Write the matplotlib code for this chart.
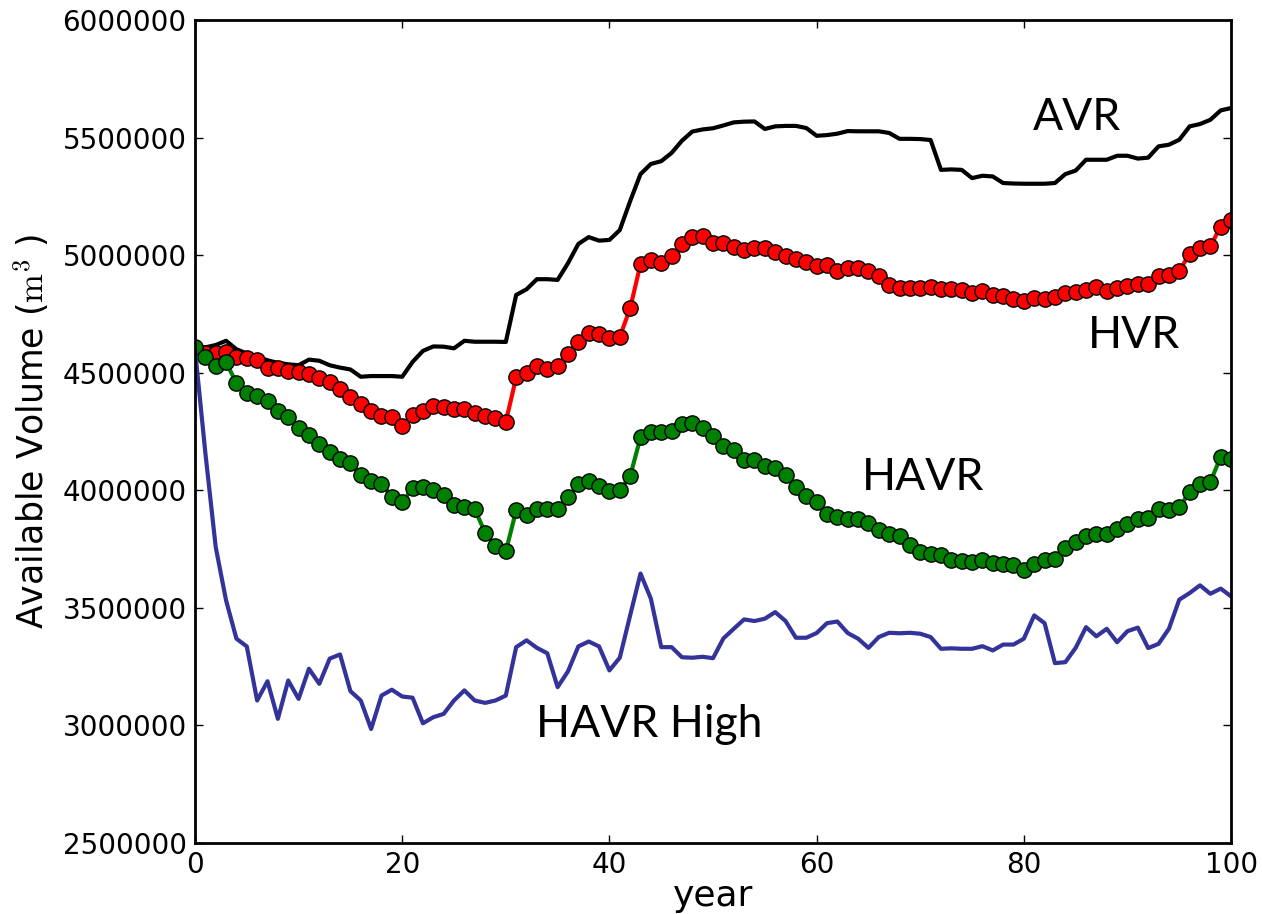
import numpy as np
import matplotlib
matplotlib.use("Agg")
import matplotlib.pyplot as plt

years = np.arange(0, 101)

avr = [4608000, 4608000, 4618000, 4636000, 4600000, 4582000, 4568000, 4553000, 4542000, 4536000,
       4532000, 4556000, 4551000, 4532000, 4522000, 4514000, 4483000, 4486000, 4486000, 4486000,
       4483000, 4546000, 4593000, 4612000, 4611000, 4604000, 4636000, 4632000, 4632000, 4632000,
       4631000, 4831000, 4855000, 4898000, 4898000, 4895000, 4966000, 5048000, 5077000, 5062000,
       5065000, 5107000, 5230000, 5345000, 5388000, 5400000, 5435000, 5487000, 5526000, 5535000,
       5540000, 5552000, 5565000, 5568000, 5569000, 5537000, 5548000, 5550000, 5550000, 5541000,
       5508000, 5511000, 5517000, 5528000, 5527000, 5527000, 5527000, 5520000, 5495000, 5495000,
       5494000, 5490000, 5363000, 5365000, 5363000, 5328000, 5338000, 5335000, 5307000, 5305000,
       5304000, 5304000, 5304000, 5307000, 5345000, 5360000, 5406000, 5406000, 5406000, 5423000,
       5423000, 5411000, 5415000, 5463000, 5470000, 5491000, 5548000, 5558000, 5576000, 5616000,
       5626000]

hvr = [4600000, 4585000, 4585000, 4589000, 4568000, 4561000, 4554000, 4519000, 4519000, 4509000,
       4502000, 4494000, 4476000, 4462000, 4433000, 4398000, 4367000, 4338000, 4317000, 4313000,
       4273000, 4320000, 4337000, 4358000, 4353000, 4348000, 4348000, 4327000, 4317000, 4308000,
       4291000, 4480000, 4497000, 4530000, 4516000, 4530000, 4578000, 4630000, 4668000, 4665000,
       4647000, 4653000, 4774000, 4962000, 4980000, 4966000, 4997000, 5048000, 5079000, 5082000,
       5051000, 5054000, 5037000, 5023000, 5030000, 5030000, 5015000, 4998000, 4983000, 4970000,
       4956000, 4959000, 4933000, 4945000, 4945000, 4933000, 4913000, 4874000, 4860000, 4860000,
       4860000, 4866000, 4855000, 4855000, 4852000, 4840000, 4849000, 4831000, 4827000, 4813000,
       4805000, 4817000, 4813000, 4824000, 4841000, 4845000, 4852000, 4864000, 4849000, 4859000,
       4869000, 4876000, 4878000, 4912000, 4916000, 4932000, 5007000, 5030000, 5038000, 5122000,
       5150000]

havr = [4611000, 4566000, 4530000, 4544000, 4457000, 4412000, 4402000, 4381000, 4338000, 4313000,
        4267000, 4235000, 4199000, 4164000, 4135000, 4117000, 4064000, 4039000, 4029000, 3972000,
        3951000, 4008000, 4014000, 4003000, 3982000, 3937000, 3927000, 3920000, 3820000, 3765000,
        3740000, 3915000, 3895000, 3920000, 3920000, 3920000, 3970000, 4025000, 4040000, 4020000,
        3995000, 4000000, 4060000, 4225000, 4246000, 4246000, 4253000, 4281000, 4287000, 4263000,
        4230000, 4188000, 4171000, 4131000, 4128000, 4104000, 4093000, 4064000, 4014000, 3975000,
        3951000, 3901000, 3887000, 3876000, 3876000, 3859000, 3833000, 3816000, 3805000, 3766000,
        3738000, 3731000, 3724000, 3702000, 3698000, 3695000, 3705000, 3691000, 3688000, 3681000,
        3663000, 3685000, 3702000, 3709000, 3755000, 3780000, 3805000, 3813000, 3816000, 3837000,
        3856000, 3876000, 3882000, 3922000, 3918000, 3927000, 3993000, 4026000, 4036000, 4142000,
        4135000]

havr_high = [4600000, 4160000, 3759000, 3532000, 3369000, 3336000, 3106000, 3188000, 3028000, 3191000,
             3113000, 3241000, 3177000, 3284000, 3302000, 3146000, 3106000, 2985000, 3127000, 3152000,
             3123000, 3118000, 3009000, 3035000, 3049000, 3106000, 3149000, 3106000, 3096000, 3106000,
             3127000, 3333000, 3362000, 3330000, 3307000, 3163000, 3230000, 3336000, 3357000, 3336000,
             3234000, 3288000, 3468000, 3646000, 3539000, 3333000, 3333000, 3290000, 3288000, 3292000,
             3286000, 3370000, 3411000, 3451000, 3444000, 3454000, 3482000, 3444000, 3373000, 3373000,
             3393000, 3435000, 3442000, 3393000, 3369000, 3330000, 3376000, 3394000, 3392000, 3394000,
             3390000, 3376000, 3326000, 3328000, 3326000, 3326000, 3337000, 3319000, 3344000, 3344000,
             3369000, 3468000, 3435000, 3265000, 3269000, 3330000, 3418000, 3379000, 3411000, 3354000,
             3401000, 3416000, 3329000, 3347000, 3411000, 3535000, 3563000, 3596000, 3560000, 3582000,
             3549000]

label_font = "Lato"
plt.rcParams["mathtext.fontset"] = "cm"

fig = plt.figure(figsize=(12.62, 9.14), dpi=100)
ax = fig.add_axes([0.1545, 0.0777, 0.821, 0.9003])

ax.plot(years, avr, color="black", lw=3)
ax.plot(years, hvr, color="red", lw=3, marker="o", markersize=11,
        markeredgecolor="black", markeredgewidth=1)
ax.plot(years, havr, color="green", lw=3, marker="o", markersize=11,
        markeredgecolor="black", markeredgewidth=1)
ax.plot(years, havr_high, color="#333399", lw=3)

ax.text(80.9, 5585000, "AVR", fontsize=32, family=label_font, va="center")
ax.text(86.2, 4660000, "HVR", fontsize=32, family=label_font, va="center")
ax.text(64.4, 4055000, "HAVR", fontsize=32, family=label_font, va="center")
ax.text(32.9, 3005000, "HAVR High", fontsize=32, family=label_font, va="center")

ax.set_xlim(0, 100)
ax.set_ylim(2500000, 6000000)
ax.set_xticks([0, 20, 40, 60, 80, 100])
ax.set_yticks(np.arange(2500000, 6000001, 500000))
ax.ticklabel_format(style="plain", useOffset=False)
ax.tick_params(direction="in", length=6, width=1, labelsize=20, top=True, right=True, pad=6)
for s in ax.spines.values():
    s.set_linewidth(2)

ax.set_xlabel("year", fontsize=26, labelpad=0)
ax.set_ylabel(r"Available Volume ($\mathrm{m}^3$ )", fontsize=25, labelpad=8)

fig.savefig("out.png", dpi=100)
